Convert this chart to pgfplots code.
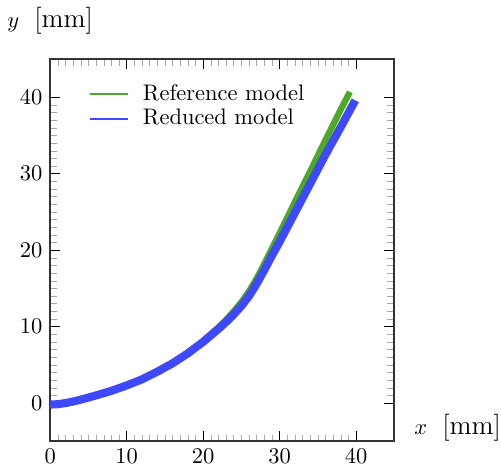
\documentclass[border=0pt]{standalone}
\usepackage{pgfplots}
\pgfplotsset{compat=1.18}

\definecolor{refgreen}{RGB}{78,168,42}
\definecolor{redblue}{RGB}{62,72,255}

\begin{document}
\begin{tikzpicture}
\begin{axis}[
    scale only axis,
    width=153pt, height=170pt,
    xmin=0, xmax=45, ymin=-5, ymax=45,
    xtick={0,10,20,30,40}, ytick={0,10,20,30,40},
    minor tick num=9,
    major tick length=4.4pt, minor tick length=3pt,
    every minor tick/.style={gray!70},
    tick style={black},
    axis line style={black!80, line width=0.8pt},
    xlabel={$x$\ \ {\large[mm]}}, ylabel={$y$\ \ {\large[mm]}},
    every axis x label/.style={at={(rel axis cs:1,0)}, anchor=west, inner sep=0pt, xshift=8.8pt, yshift=5.8pt},
    every axis y label/.style={at={(rel axis cs:0,1)}, anchor=south, yshift=7.4pt},
    legend style={draw=none, fill=none, at={(0.092,0.958)}, anchor=north west,
                  row sep=-1.5pt, /tikz/every odd column/.append style={column sep=4pt}},
    legend cell align=left,
    legend image code/.code={\draw[#1, line width=0.9pt] (0cm,0cm) -- (0.6cm,0cm);},
]
\addplot[refgreen, line width=2.8pt, line join=round] coordinates {
    (0,-0.2) (1,-0.15) (2,0.0) (3,0.2) (4,0.45) (6,1.0) (8,1.6) (10,2.3) (12,3.1) (14,4.1)
    (16,5.2) (18,6.5) (20,8.1) (22,9.9) (23,10.9) (24,12.0) (25,13.2) (26,14.6) (27,16.3)
    (28,18.2) (29,20.2) (30,22.2) (32,26.3) (34,30.3) (36,34.4) (38,38.4) (39.2,40.7)
};
\addlegendentry{Reference model}
\addplot[redblue, line width=3.6pt, line join=round] coordinates {
    (0,-0.2) (1,-0.15) (2,0.0) (3,0.2) (4,0.45) (6,1.0) (8,1.6) (10,2.3) (12,3.1) (14,4.1)
    (16,5.2) (18,6.5) (20,8.0) (22,9.7) (23,10.6) (24,11.6) (25,12.7) (26,14.0) (27,15.6)
    (28,17.4) (29,19.3) (30,21.1) (32,24.9) (34,28.7) (36,32.5) (38,36.1) (39.9,39.6)
};
\addlegendentry{Reduced model}
\end{axis}
\end{tikzpicture}
\end{document}
